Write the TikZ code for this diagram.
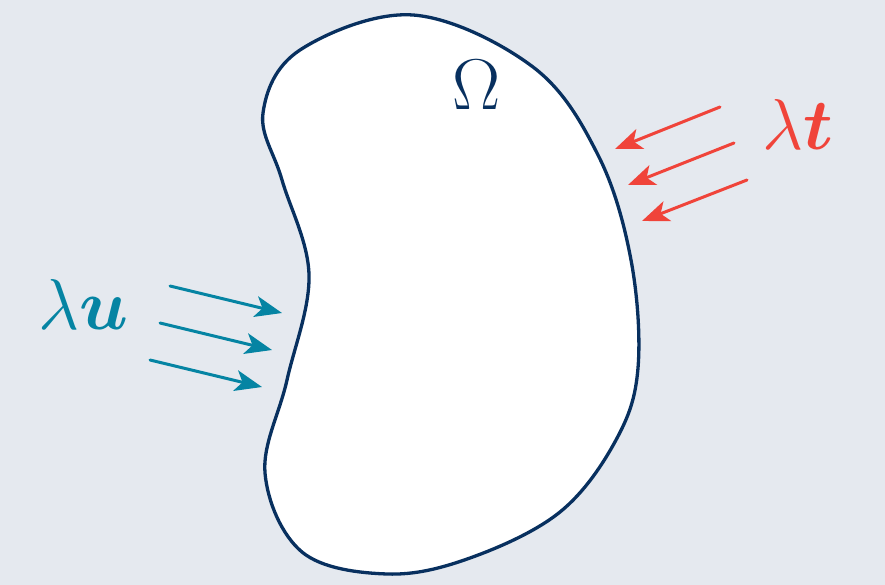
\RequirePackage{fix-cm}
\documentclass[tikz,border=0pt]{standalone}
\usepackage{amsmath,bm}
\usetikzlibrary{arrows.meta}
\definecolor{bgc}{HTML}{E5E9EF}
\definecolor{navy}{HTML}{08305F}
\definecolor{tealb}{HTML}{0584A3}
\definecolor{redc}{HTML}{F0443A}
\tikzset{
  load/.style={line width=3pt, line cap=round, -{Stealth[length=27pt,width=21pt,inset=7pt]}},
  lbl/.style={inner sep=0pt, font=\fontsize{72}{80}\selectfont}
}
\begin{document}
\begin{tikzpicture}[x=1pt,y=-1pt]
\fill[bgc] (0,0) rectangle (885,585);
\useasboundingbox (0,0) rectangle (885,585);
\draw[navy, line width=3.3pt, fill=white] plot[smooth cycle, tension=0.6] coordinates {
 (413,15) (533,67) (598,155) (631,260) (638,368) (616,440) (560,512) (470,558) (387,574) (302,552) (265,473) (287,380) (309,275) (282,180) (263,113) (300,50)};
\node[lbl, navy, anchor=base] (om) at (477,110) {$\Omega$};
\node[lbl, tealb, anchor=base west] (lu) at (38,329) {$\lambda\bm{u}$};
\node[lbl, redc, anchor=base west] (lt) at (762,150) {$\lambda\bm{t}$};
\coordinate (u1a) at (170,286); \coordinate (u1b) at (282,313);
\coordinate (u2a) at (160,323); \coordinate (u2b) at (272,350);
\coordinate (u3a) at (150,360); \coordinate (u3b) at (262,387);
\coordinate (t1a) at (720,107); \coordinate (t1b) at (615,149);
\coordinate (t2a) at (734,143); \coordinate (t2b) at (628,185);
\coordinate (t3a) at (747,180); \coordinate (t3b) at (642,221);
\draw[load, tealb] (u1a) -- (u1b);
\draw[load, tealb] (u2a) -- (u2b);
\draw[load, tealb] (u3a) -- (u3b);
\draw[load, redc] (t1a) -- (t1b);
\draw[load, redc] (t2a) -- (t2b);
\draw[load, redc] (t3a) -- (t3b);
\end{tikzpicture}
\end{document}
